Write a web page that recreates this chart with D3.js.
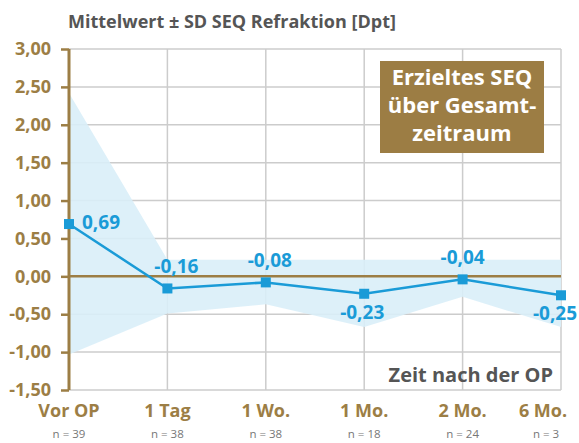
<!DOCTYPE html>
<meta charset="utf-8">
<script src="https://cdnjs.cloudflare.com/ajax/libs/d3/7.8.5/d3.min.js"></script>
<style>
  body { margin: 0; background: #fff; }
  text { font-family: "Open Sans", "Noto Sans", sans-serif; }
</style>
<div id="chart"></div>
<script>
  // data
  const categories = ['Vor OP', '1 Tag', '1 Wo.', '1 Mo.', '2 Mo.', '6 Mo.']
  const counts = ['n = 39', 'n = 38', 'n = 38', 'n = 18', 'n = 24', 'n = 3']
  const means = [0.69, -0.16, -0.08, -0.23, -0.04, -0.25]
  const upper = [2.42, 0.22, 0.22, 0.22, 0.22, 0.22]
  const lower = [-1.03, -0.49, -0.37, -0.67, -0.27, -0.67]
  const labelAbove = [false, true, true, false, true, false]
  const yTicks = [3, 2.5, 2, 1.5, 1, 0.5, 0, -0.5, -1, -1.5]

  const gold = '#9c7e45'
  const blue = '#1a9bd7'
  const width = 579, height = 443
  const margin = { top: 49, right: 18, bottom: 53, left: 69 }

  const svg = d3.select('#chart').append('svg')
    .attr('width', width).attr('height', height)
    .attr('font-weight', 'bold')

  const x = d3.scalePoint().domain(categories).range([margin.left, width - margin.right])
  const y = d3.scaleLinear().domain([-1.5, 3]).range([height - margin.bottom, margin.top])
  const fmt = v => d3.format('.2f')(v).replace('.', ',').replace('−', '-')
  const last = categories.length - 1

  // title
  svg.append('text').attr('x', 68).attr('y', 28)
    .attr('fill', '#555').attr('font-size', 18).text('Mittelwert ± SD SEQ Refraktion [Dpt]')

  // grid
  const grid = svg.append('g').attr('stroke', '#ccc').attr('stroke-width', 1.5)
  grid.selectAll('.h').data(yTicks).join('line')
    .attr('x1', margin.left).attr('x2', width - margin.right)
    .attr('y1', d => y(d)).attr('y2', d => y(d))
  grid.selectAll('.v').data(categories.slice(1)).join('line')
    .attr('x1', d => x(d)).attr('x2', d => x(d))
    .attr('y1', margin.top).attr('y2', y(-1.5))

  // SD band
  const idx = d3.range(categories.length)
  svg.append('path').datum(idx)
    .attr('fill', '#d9eef8').attr('opacity', 0.9)
    .attr('d', d3.area().x(i => x(categories[i])).y0(i => y(lower[i])).y1(i => y(upper[i])))

  // zero line
  svg.append('line').attr('x1', margin.left).attr('x2', width - margin.right)
    .attr('y1', y(0)).attr('y2', y(0)).attr('stroke', gold).attr('stroke-width', 2.5)

  // y axis
  const yAxis = svg.append('g').attr('transform', `translate(${margin.left},0)`)
    .call(d3.axisLeft(y).tickValues(yTicks).tickSize(8).tickPadding(10).tickFormat(fmt))
  yAxis.select('.domain').attr('stroke', gold).attr('stroke-width', 3)
    .attr('d', `M0,${y(3)}V${y(-1.5)}`)
  yAxis.selectAll('.tick line').attr('stroke', gold).attr('stroke-width', 2.5)
  yAxis.selectAll('.tick text').attr('fill', gold).attr('font-size', 18)
    .attr('font-family', '"Open Sans", sans-serif').attr('font-weight', 'bold')

  // mean line and markers
  svg.append('path').datum(idx)
    .attr('fill', 'none').attr('stroke', blue).attr('stroke-width', 2.5)
    .attr('d', d3.line().x(i => x(categories[i])).y(i => y(means[i])))
  svg.selectAll('.pt').data(idx).join('rect')
    .attr('x', i => x(categories[i]) - 5).attr('y', i => y(means[i]) - 5)
    .attr('width', 10).attr('height', 10).attr('fill', blue)

  // value labels
  const dx = [13, 9, 4, -2, 0, -6]
  svg.selectAll('.val').data(idx).join('text')
    .attr('fill', blue).attr('font-size', 19)
    .attr('text-anchor', i => i === 0 ? 'start' : 'middle')
    .attr('x', i => x(categories[i]) + dx[i])
    .attr('y', i => i === 0 ? y(means[i]) + 5 : labelAbove[i] ? y(means[i]) - 15 : y(means[i]) + 25)
    .text(i => fmt(means[i]))

  // category labels and counts
  svg.selectAll('.cat').data(categories).join('text')
    .attr('x', (d, i) => x(d) - (i === last ? 18 : 0)).attr('y', 417).attr('text-anchor', 'middle')
    .attr('fill', gold).attr('font-size', 18).text(d => d)
  svg.selectAll('.n').data(counts).join('text')
    .attr('x', (d, i) => x(categories[i]) - (i === last ? 15 : 0)).attr('y', 438).attr('text-anchor', 'middle')
    .attr('fill', '#777').attr('font-size', 11.5).attr('font-weight', 'normal').text(d => d)

  // axis caption
  svg.append('text').attr('x', 553).attr('y', 382).attr('text-anchor', 'end')
    .attr('fill', '#555').attr('font-size', 20).text('Zeit nach der OP')

  // info box
  const box = svg.append('g')
  box.append('rect').attr('x', 380).attr('y', 61).attr('width', 164).attr('height', 92).attr('fill', '#9c7d44')
  box.selectAll('text').data(['Erzieltes SEQ', 'über Gesamt-', 'zeitraum']).join('text')
    .attr('x', 462).attr('y', (d, i) => 85 + i * 28).attr('text-anchor', 'middle')
    .attr('fill', '#fff').attr('font-size', 22).text(d => d)
</script>
